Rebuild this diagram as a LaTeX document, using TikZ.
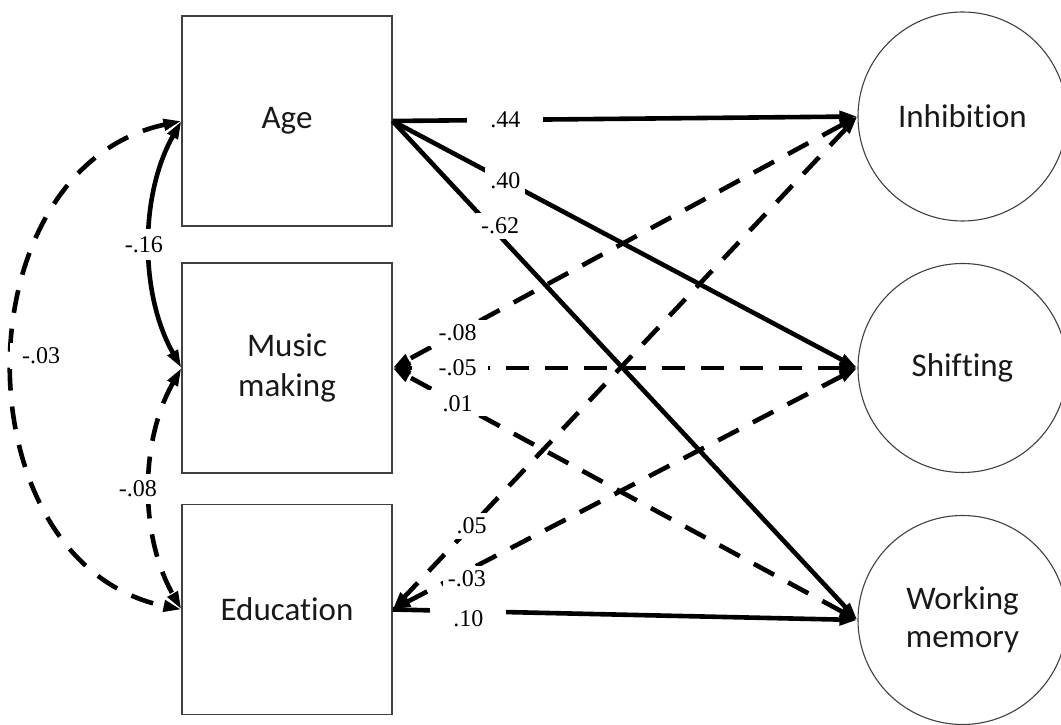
\documentclass[tikz,border=0pt]{standalone}
\usepackage{fontspec}
\setmainfont{Liberation Serif}
\newfontfamily\boxfont[Ligatures=NoCommon]{Carlito}
\usetikzlibrary{arrows.meta}

\begin{document}
\begin{tikzpicture}[x=1pt,y=1pt,
  varbox/.style={draw=black!75, line width=1.1pt, minimum width=210pt, minimum height=210pt,
    inner sep=0pt, align=center, text=black!90, font=\boxfont\fontsize{33}{40}\selectfont},
  latent/.style={circle, draw=black!75, line width=1.1pt, minimum size=209pt,
    inner sep=0pt, align=center, text=black!90, font=\boxfont\fontsize{33}{38}\selectfont},
  tip/.tip={Triangle[length=18pt,width=11pt]},
  effect/.style={line width=4.6pt, -tip},
  nseffect/.style={line width=4.6pt, dash pattern=on 23pt off 16pt, tip-tip},
  cov/.style={line width=4.6pt, tip-tip},
  nscov/.style={line width=4.6pt, dash pattern=on 23pt off 16pt, tip-tip},
  lbl/.style={fill=white, inner xsep=5pt, inner ysep=5pt, font=\fontsize{24}{28}\selectfont}
]
\useasboundingbox (0,0) rectangle (1061,724);

% observed variables
\node[varbox] (age)   at (287,603)   {Age};
\node[varbox] (music) at (287,356)   {Music\\making};
\node[varbox] (edu)   at (287,114.5) {Education};

% executive functions
\node[latent] (inh) at (962.5,607.5) {Inhibition};
\node[latent] (shi) at (962.5,356)   {Shifting};
\node[latent] (wm)  at (962.5,104)   {Working\\memory};

% paths from age
\draw[effect] (age.east) -- node[lbl, pos=0.2425, minimum width=76pt] {.44} (inh.west);
\draw[effect] (age.east) -- node[lbl, pos=0.2425] {.40} (shi.west);
\draw[effect] (age.east) -- node[lbl, pos=0.21, xshift=10pt] {-.62} (wm.west);

% paths involving music making
\draw[nseffect] (inh.west) -- node[lbl, pos=0.86, minimum width=60pt] {-.08} (music.east);
\draw[nseffect] (shi.west) -- node[lbl, pos=0.86, minimum width=60pt] {-.05} (music.east);
\draw[nseffect] (wm.west)  -- node[lbl, pos=0.86, minimum width=60pt] {.01} (music.east);

% paths involving education
\draw[nseffect] (inh.west) -- node[lbl, pos=0.83] {.05} (edu.east);
\draw[nseffect] (shi.west) -- node[lbl, pos=0.84, yshift=-8pt] {-.03} (edu.east);
\draw[effect] (edu.east) -- node[lbl, pos=0.163, yshift=-7pt, minimum width=76pt] {.10} (wm.west);

% covariances among predictors
\draw[cov] (age.west) .. controls (139.5,529) and (139.5,430) ..
  node[lbl, pos=0.5, xshift=-6pt, inner ysep=7pt] {-.16} (music.west);
\draw[nscov] (music.west) .. controls (139.5,282.4) and (139.5,188.1) ..
  node[lbl, pos=0.5, xshift=-12pt, inner ysep=7pt] {-.08} (edu.west);
\draw[nscov] (age.west) .. controls (-42,555) and (-42,160) ..
  node[lbl, pos=0.5, anchor=west, xshift=-6pt, yshift=10pt, inner xsep=12pt] {-.03} (edu.west);
\end{tikzpicture}
\end{document}
